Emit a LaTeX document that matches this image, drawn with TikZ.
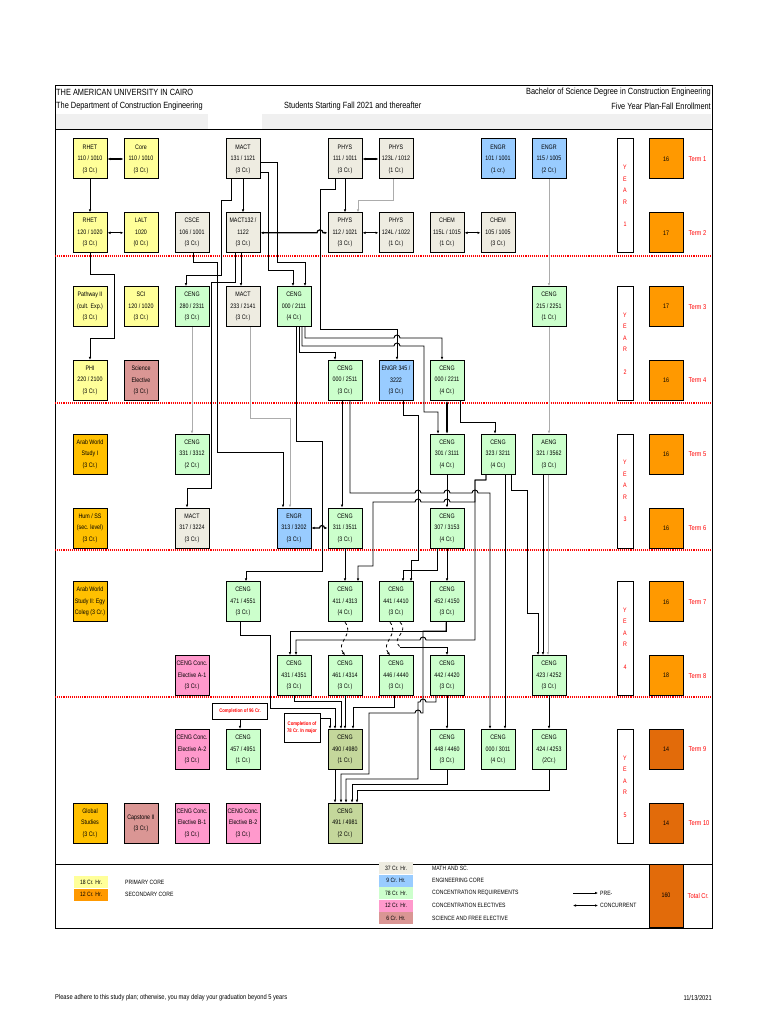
\documentclass[tikz,border=0pt]{standalone}
\usepackage{fontspec}
\setmainfont{Liberation Sans}[FakeStretch=0.82]
\usetikzlibrary{arrows.meta,positioning,calc}

\definecolor{cYel}{HTML}{FFFF99}
\definecolor{cGold}{HTML}{FFC000}
\definecolor{cMath}{HTML}{EEECE1}
\definecolor{cBlue}{HTML}{99CCFF}
\definecolor{cGreen}{HTML}{CCFFCC}
\definecolor{cPink}{HTML}{FF99CC}
\definecolor{cRose}{HTML}{DA9694}
\definecolor{cOlive}{HTML}{C4D79B}
\definecolor{cOra}{HTML}{FF9900}
\definecolor{cDOra}{HTML}{E26B0A}

\newcommand{\bxfont}{\fontsize{6.5}{11.5}\selectfont}
\newcommand{\hdfont}{\fontsize{9}{10}\selectfont}
\newcommand{\smfont}{\fontsize{7}{8}\selectfont}
\newcommand{\ntfont}{\fontsize{5.2}{6.5}\selectfont\bfseries}
\newcommand{\yrfont}{\fontsize{6.5}{11.5}\selectfont}
\newcommand{\lgfont}{\fontsize{6.2}{7}\selectfont}

\begin{document}
\begin{tikzpicture}[
    x=1pt, y=-1pt,
    node distance=73.8pt and 51pt, on grid,
    course/.style={rectangle, draw=black, line width=1pt, minimum width=34pt, minimum height=40pt, inner sep=0pt, align=center, font=\bxfont},
    yel/.style={course, fill=cYel},
    gen/.style={course, fill=cGold},
    msc/.style={course, fill=cMath},
    engr/.style={course, fill=cBlue},
    ceng/.style={course, fill=cGreen},
    elec/.style={course, fill=cPink},
    sci/.style={course, fill=cRose},
    proj/.style={course, fill=cOlive},
    credit/.style={rectangle, draw=black, line width=1pt, fill=cOra, minimum width=34pt, minimum height=40pt, font=\bxfont},
    yearbar/.style={rectangle, draw=black, line width=1pt, fill=white, minimum width=16pt, minimum height=113.8pt, inner sep=0pt, align=center, text=red, font=\yrfont},
    termlbl/.style={anchor=west, inner sep=0pt, text=red, font=\smfont},
    note/.style={rectangle, draw=black, line width=0.8pt, fill=white, align=center, text=red, inner sep=1pt, font=\ntfont},
    swatch/.style={rectangle, minimum width=34pt, minimum height=12pt, inner sep=0pt, font=\lgfont},
    leg/.style={anchor=west, inner sep=0pt, font=\lgfont},
    title/.style={inner sep=0pt, font=\hdfont},
    arrow/.style={-{Latex[length=3pt,width=2.6pt]}, line width=0.9pt},
    grayarrow/.style={arrow, draw=gray!65},
    dblarrow/.style={{Latex[length=3pt,width=2.6pt]}-{Latex[length=3pt,width=2.6pt]}, line width=1.2pt},
    wiggle/.style={dashed, line width=0.8pt},
    yrline/.style={draw=red, densely dotted, line width=1.1pt}
]
\useasboundingbox (0,0) rectangle (768,1024);
\fill[white] (0,0) rectangle (768,1024);

% header and frame
\fill[gray!12] (56,114) rectangle (208,129);
\fill[gray!12] (262,114) rectangle (711,129);
\draw[line width=1pt] (55,86) rectangle (712,928);
\draw[line width=1pt] (55,129.5) -- (712,129.5);
\draw[line width=1pt] (55,864) -- (712,864);
\draw[yrline] (55,256) -- (712,256);
\draw[yrline] (55,403) -- (712,403);
\draw[yrline] (55,550) -- (712,550);
\draw[yrline] (55,697) -- (712,697);

\node[title, anchor=west] (uni) at (56,92) {THE AMERICAN UNIVERSITY IN CAIRO};
\node[title, anchor=west] (dept) at (56,106) {The Department of Construction Engineering};
\node[title, anchor=west] (intake) at (284,106) {Students Starting Fall 2021 and thereafter};
\node[title, anchor=east] (degree) at (711,92) {Bachelor of Science Degree in Construction Engineering};
\node[title, anchor=east] (plan) at (711,106) {Five Year Plan-Fall Enrollment};

% year 1
\node[yel] (rhet110) at (90,159) {RHET\\110 / 1010\\(3 Cr.)};
\node[yel, right=of rhet110] (core110) {Core\\110 / 1010\\(3 Cr.)};
\node[msc, right=102pt of core110] (mact131) {MACT\\131 / 1121\\(3 Cr.)};
\node[msc, right=102pt of mact131] (phys111) {PHYS\\111 / 1011\\(3 Cr.)};
\node[msc, right=of phys111] (phys123) {PHYS\\123L / 1012\\(1 Cr.)};
\node[engr, right=102pt of phys123] (engr101) {ENGR\\101 / 1001\\(1 cr.)};
\node[engr, right=of engr101] (engr115) {ENGR\\115 / 1005\\(2 Cr.)};

\node[yel, below=of rhet110] (rhet120) {RHET\\120 / 1020\\(3 Cr.)};
\node[yel, right=of rhet120] (lalt) {LALT\\1020\\(0 Cr.)};
\node[msc, right=of lalt] (csce106) {CSCE\\106 / 1001\\(3 Cr.)};
\node[msc, right=of csce106] (mact132) {MACT132 /\\1122\\(3 Cr.)};
\node[msc, right=102pt of mact132] (phys112) {PHYS\\112 / 1021\\(3 Cr.)};
\node[msc, right=of phys112] (phys124) {PHYS\\124L / 1022\\(1 Cr.)};
\node[msc, right=of phys124] (chem115) {CHEM\\115L / 1015\\(1 Cr.)};
\node[msc, right=of chem115] (chem105) {CHEM\\105 / 1005\\(3 Cr.)};

% year 2
\node[yel, below=of rhet120] (path2) {Pathway II\\(cult. Exp.)\\(3 Cr.)};
\node[yel, right=of path2] (sci120) {SCI\\120 / 1020\\(3 Cr.)};
\node[ceng, right=of sci120] (ceng280) {CENG\\280 / 2311\\(3 Cr.)};
\node[msc, right=of ceng280] (mact233) {MACT\\233 / 2141\\(3 Cr.)};
\node[ceng, right=of mact233] (ceng2111) {CENG\\000 / 2111\\(4 Cr.)};
\node[ceng, right=255pt of ceng2111] (ceng215) {CENG\\215 / 2251\\(1 Cr.)};

\node[yel, below=of path2] (phi220) {PHI\\220 / 2100\\(3 Cr.)};
\node[sci, right=of phi220] (scielec) {Science\\Elective\\(3 Cr.)};
\node[ceng, right=204pt of scielec] (ceng2511) {CENG\\000 / 2511\\(3 Cr.)};
\node[engr, right=of ceng2511] (engr345) {ENGR 345 /\\3222\\(3 Cr.)};
\node[ceng, right=of engr345] (ceng2211) {CENG\\000 / 2211\\(4 Cr.)};

% year 3
\node[gen, below=of phi220] (arab1) {Arab World\\Study I\\(3 Cr.)};
\node[ceng, right=102pt of arab1] (ceng331) {CENG\\331 / 3312\\(2 Cr.)};
\node[ceng, right=255pt of ceng331] (ceng301) {CENG\\301 / 3111\\(4 Cr.)};
\node[ceng, right=of ceng301] (ceng323) {CENG\\323 / 3211\\(4 Cr.)};
\node[ceng, right=of ceng323] (aeng321) {AENG\\321 / 3562\\(3 Cr.)};

\node[gen, below=of arab1] (humss) {Hum / SS\\(sec. level)\\(3 Cr.)};
\node[msc, right=102pt of humss] (mact317) {MACT\\317 / 3224\\(3 Cr.)};
\node[engr, right=102pt of mact317] (engr313) {ENGR\\313 / 3202\\(3 Cr.)};
\node[ceng, right=of engr313] (ceng311) {CENG\\311 / 3511\\(3 Cr.)};
\node[ceng, right=102pt of ceng311] (ceng307) {CENG\\307 / 3153\\(4 Cr.)};

% year 4
\node[gen, below=of humss] (arab2) {Arab World\\Study II: Egy\\Coleg (3 Cr.)};
\node[ceng, right=153pt of arab2] (ceng471) {CENG\\471 / 4551\\(3 Cr.)};
\node[ceng, right=102pt of ceng471] (ceng411) {CENG\\411 / 4313\\(4 Cr.)};
\node[ceng, right=of ceng411] (ceng441) {CENG\\441 / 4410\\(3 Cr.)};
\node[ceng, right=of ceng441] (ceng452) {CENG\\452 / 4150\\(3 Cr.)};

\node[elec, below=147.6pt of mact317] (elecA1) {CENG Conc.\\Elective A-1\\(3 Cr.)};
\node[ceng, right=102pt of elecA1] (ceng431) {CENG\\431 / 4351\\(3 Cr.)};
\node[ceng, right=of ceng431] (ceng461) {CENG\\461 / 4314\\(3 Cr.)};
\node[ceng, right=of ceng461] (ceng446) {CENG\\446 / 4440\\(3 Cr.)};
\node[ceng, right=of ceng446] (ceng442) {CENG\\442 / 4420\\(3 Cr.)};
\node[ceng, right=102pt of ceng442] (ceng423) {CENG\\423 / 4252\\(3 Cr.)};

% year 5
\node[elec, below=of elecA1] (elecA2) {CENG Conc.\\Elective A-2\\(3 Cr.)};
\node[ceng, right=of elecA2] (ceng457) {CENG\\457 / 4951\\(1 Cr.)};
\node[proj, right=102pt of ceng457] (ceng490) {CENG\\490 / 4980\\(1 Cr.)};
\node[ceng, right=102pt of ceng490] (ceng448) {CENG\\448 / 4460\\(3 Cr.)};
\node[ceng, right=of ceng448] (ceng3011) {CENG\\000 / 3011\\(4 Cr.)};
\node[ceng, right=of ceng3011] (ceng424) {CENG\\424 / 4253\\(2Cr.)};

\node[gen, below=221.4pt of arab2] (global) {Global\\Studies\\(3 Cr.)};
\node[sci, right=of global] (capst) {Capstone II\\(3 Cr.)};
\node[elec, right=of capst] (elecB1) {CENG Conc.\\Elective B-1\\(3 Cr.)};
\node[elec, right=of elecB1] (elecB2) {CENG Conc.\\Elective B-2\\(3 Cr.)};
\node[proj, right=102pt of elecB2] (ceng491) {CENG\\491 / 4981\\(2 Cr.)};

\node[note, minimum width=55pt, minimum height=16pt] (cr96) at (240,711) {Completion of 96 Cr.};
\node[note, minimum width=36pt, minimum height=29pt] (cr78) at (302,727.5) {Completion of\\78 Cr. In major};

% year bars and credits
\node[yearbar] (yr1) at (625,195.9) {Y\\E\\A\\R\\[11pt]1};
\node[yearbar] (yr2) at (625,343.5) {Y\\E\\A\\R\\[11pt]2};
\node[yearbar] (yr3) at (625,491.1) {Y\\E\\A\\R\\[11pt]3};
\node[yearbar] (yr4) at (625,638.7) {Y\\E\\A\\R\\[11pt]4};
\node[yearbar] (yr5) at (625,786.3) {Y\\E\\A\\R\\[11pt]5};

\node[credit, right=117pt of engr115] (t1) {16};
\node[credit, below=of t1] (t2) {17};
\node[credit, below=of t2] (t3) {17};
\node[credit, below=of t3] (t4) {16};
\node[credit, below=of t4] (t5) {16};
\node[credit, below=of t5] (t6) {16};
\node[credit, below=of t6] (t7) {16};
\node[credit, below=of t7] (t8) {18};
\node[credit, fill=cDOra, below=of t8] (t9) {14};
\node[credit, fill=cDOra, below=of t9] (t10) {14};
\node[termlbl] (lt1) at ([xshift=5pt]t1.east) {Term 1};
\node[termlbl] (lt2) at ([xshift=5pt]t2.east) {Term 2};
\node[termlbl] (lt3) at ([xshift=5pt]t3.east) {Term 3};
\node[termlbl] (lt4) at ([xshift=5pt]t4.east) {Term 4};
\node[termlbl] (lt5) at ([xshift=5pt]t5.east) {Term 5};
\node[termlbl] (lt6) at ([xshift=5pt]t6.east) {Term 6};
\node[termlbl] (lt7) at ([xshift=5pt]t7.east) {Term 7};
\node[termlbl] (lt8) at ([xshift=5pt]t8.east) {Term 8};
\node[termlbl] (lt9) at ([xshift=5pt]t9.east) {Term 9};
\node[termlbl] (lt10) at ([xshift=5pt]t10.east) {Term 10};

% year 1 links
\draw[dblarrow] (rhet110) -- (core110);
\draw[arrow] (rhet110) -- (rhet120);
\draw[dblarrow] (rhet120) -- (lalt);
\draw[arrow] (mact131) -- (mact132);
\draw[dblarrow] (phys111) -- (phys123);
\draw[arrow] (phys111) -- (phys112);
\draw[grayarrow] ([xshift=-3pt]phys123.south) |- (358,200) -- ([xshift=13pt]phys112.north);
\draw[dblarrow] (phys112) -- (phys124);
\draw[dblarrow] (chem115) -- (chem105);
\draw[dblarrow] (mact132.east) -- (317,232.8) arc[start angle=180, end angle=0, radius=3pt] -- (phys112.west);
\draw[arrow] ([xshift=-10pt]phys111.south) |- (320,189) -- (320,329) -| ([xshift=1pt]engr345.north);
\draw[grayarrow] (engr115) -- (ceng215);

% year 2 links
\draw[arrow] (rhet120.south) |- (114,274) -- (114,338) -| (phi220.north);
\draw[arrow] ([xshift=-12pt]mact131.south) |- (221,200) -- (221,275) -| ([xshift=-6pt]ceng280.north);
\draw[arrow] ([xshift=1pt]csce106.south) |- (217,262) -- (217,452) -| ([xshift=-11pt]engr313.north);
\draw[arrow] ([xshift=-2pt]mact132.south) -- ([xshift=-2pt]mact233.north);
\draw[arrow] ([xshift=-8pt]mact132.south) |- (211,282) -- (211,488) -| ([xshift=-5pt]mact317.north);
\draw[arrow] ([yshift=-3pt]mact131.east) -| (277,262) -| ([xshift=11pt]ceng2111.north);
\draw[arrow] ([yshift=-13pt]mact131.east) -| (268,270) -| ([xshift=-1pt]ceng2111.north);
\draw[arrow] ([xshift=5pt]ceng2111.south) |- (335,352) -- ([xshift=-10pt]ceng2511.north);
\draw[arrow] ([xshift=8pt]ceng2111.south) |- (394,346) arc[start angle=180, end angle=0, radius=3pt] -- (424,346) |- (438,412) -- ([xshift=-9pt]ceng301.north);
\draw[arrow] ([xshift=11pt]ceng2111.south) |- (394,338) arc[start angle=180, end angle=0, radius=3pt] -- ([xshift=-5pt]ceng2211.north |- 0,338) -- ([xshift=-5pt]ceng2211.north);
\draw[arrow] ([xshift=2pt]ceng2111.south) |- (322,441) -- (322,571) -| ([xshift=3pt]ceng471.north);
\draw[dblarrow] (ceng2211) -- (ceng301);
\draw[arrow] ([xshift=13pt]ceng2211.south) |- (495,422) -- ([xshift=-3pt]ceng323.north);
\draw[grayarrow] (ceng215) -- (aeng321);
\draw[grayarrow] (ceng280) -- (ceng331);
\draw[grayarrow] ([xshift=7pt]mact233.south) |- (290,418) -- ([xshift=-4pt]engr313.north);
\draw[arrow] ([xshift=7pt]engr345.south) |- (418,415) |- (411,560) -- ([xshift=15pt]ceng441.north);
\draw[arrow] ([xshift=-3pt]ceng2511.south) -- ([xshift=-3pt]ceng311.north);
\draw[arrow] ([xshift=5pt]ceng2511.south) |- (415,493) arc[start angle=180, end angle=0, radius=3pt] -- (444,493) arc[start angle=180, end angle=0, radius=3pt] -- (472,493) arc[start angle=180, end angle=0, radius=3pt] -- (490,493) -- ([xshift=-8pt]ceng3011.north);

% year 3 links
\draw[arrow] ([xshift=-12pt]ceng323.south) |- (475,480) -- (475,502) -- (450,502) arc[start angle=0, end angle=180, radius=3pt] -- (421,502) arc[start angle=0, end angle=180, radius=3pt] -- (373,502) -- (373,566) -| ([xshift=13pt]ceng411.north);
\draw[arrow] ([xshift=-12pt]ceng323.south) |- (475,480) -- (475,640) -- (426,640) arc[start angle=0, end angle=180, radius=3pt] -- (296,640) -- ([xshift=2pt]ceng431.north);
\draw[arrow] ([xshift=7pt]ceng323.south) -- ([xshift=7pt]ceng3011.north);
\draw[arrow] ([xshift=13pt]ceng323.south) |- (527,490) |- (538,613) -- ([xshift=-11pt]ceng423.north);
\draw[arrow] ([xshift=-6pt]aeng321.south) -- ([xshift=-6pt]ceng423.north);
\draw[grayarrow] ([xshift=-1pt]aeng321.south) -- ([xshift=-1pt]ceng423.north);
\draw[arrow] (ceng301) -- (ceng307);
\draw[dblarrow] (engr313.east) -- (319.5,528) arc[start angle=180, end angle=0, radius=2.5pt] -- (ceng311.west);
\draw[arrow] (ceng311) -- (ceng411);
\draw[arrow] (ceng307) -- (ceng452);
\draw[arrow] ([xshift=-10pt]ceng307.south) |- (403,570) -- ([xshift=7pt]ceng441.north);

% year 4 links
\coordinate (h3) at (400,647);
\draw[arrow, wiggle] (ceng411.south) .. controls (355,634) and (335,643) .. (ceng461.north);
\draw[arrow, wiggle] ([xshift=-6pt]ceng441.south) .. controls (400,634) and (380,643) .. ([xshift=-6pt]ceng446.north);
\draw[wiggle] ([xshift=4pt]ceng441.south) .. controls (410,632) and (390,638) .. (h3);
\draw[arrow] (h3) -| (ceng442.north);
\draw[arrow] ([xshift=-1pt]ceng452.south) |- (290,631) -- ([xshift=-4pt]ceng431.north);
\draw[arrow] ([xshift=-1pt]ceng452.south) |- (423,631) -- (423,713) -- (421,713) arc[start angle=0, end angle=180, radius=3pt] -- (369,713) -- (369,774) -| ([xshift=-4pt]ceng491.north);
\draw[arrow] ([xshift=-3pt]ceng471.south) |- (270,635) -- (270,708) -| ([xshift=-10pt]ceng490.north);
\draw[arrow] (ceng431.south) |- (341,701) -- ([xshift=-4pt]ceng490.north);
\draw[arrow] ([yshift=9pt]cr78.east) -| ([xshift=-15pt]ceng490.north);
\draw[arrow] (ceng461) -- (ceng490);
\draw[arrow] ([xshift=-2pt]ceng446.south) |- (353,707) -- ([xshift=8pt]ceng490.north);
\draw[arrow] (ceng442) -- (ceng448);
\draw[arrow] ([xshift=-11pt]ceng442.south) |- (426,702) arc[start angle=0, end angle=180, radius=3pt] -- (418,702) -- (418,779) -| ([xshift=1pt]ceng491.north);
\draw[arrow] (ceng423) -- (ceng424);

% year 5 links
\draw[arrow] (cr96.south) -- (cr96.south |- ceng457.north);
\draw[arrow] ([xshift=-10pt]ceng490.south) -- ([xshift=-10pt]ceng491.north);
\draw[arrow] (ceng448.south) |- (352,784) -- ([xshift=7pt]ceng491.north);
\draw[arrow] (ceng424.south) |- (357,790) -- ([xshift=12pt]ceng491.north);

% legend
\node[swatch, fill=cYel] (sw18) at (91,882) {18 Cr. Hr.};
\node[swatch, fill=cOra, below=12.5pt of sw18] (sw12) {12 Cr. Hr.};
\node[leg] (lgprim) at (125,882) {PRIMARY CORE};
\node[leg] (lgsec) at (125,894.5) {SECONDARY CORE};
\node[swatch, fill=cMath] (sw37) at (396,868) {37 Cr. Hr.};
\node[swatch, fill=cBlue, below=12.5pt of sw37] (sw9) {9 Cr. Hr.};
\node[swatch, fill=cGreen, below=12.5pt of sw9] (sw78) {78 Cr. Hr.};
\node[swatch, fill=cPink, below=12.5pt of sw78] (sw12b) {12 Cr. Hr.};
\node[swatch, fill=cRose, below=12.5pt of sw12b] (sw6) {6 Cr. Hr.};
\node[leg] (lgmath) at (432,868) {MATH AND SC.};
\node[leg] (lgeng) at (432,880.5) {ENGINEERING CORE};
\node[leg] (lgreq) at (432,893) {CONCENTRATION REQUIREMENTS};
\node[leg] (lgel) at (432,905.5) {CONCENTRATION ELECTIVES};
\node[leg] (lgfree) at (432,918) {SCIENCE AND FREE ELECTIVE};
\node[leg] (lgpre) at (600,893) {PRE-};
\node[leg] (lgcon) at (600,905.5) {CONCURRENT};
\draw[arrow] ([xshift=-27pt]lgpre.west) -- ([xshift=-2pt]lgpre.west);
\draw[dblarrow] ([xshift=-27pt]lgcon.west) -- ([xshift=-2pt]lgcon.west);
\node[credit, fill=cDOra, minimum height=63pt] (total) at (666,895.5) {160};
\node[termlbl] (lgtot) at ([xshift=4pt]total.east) {Total Cr.};

% footer
\node[anchor=west, inner sep=0pt, font=\smfont] (advice) at (55,998) {Please adhere to this study plan; otherwise, you may delay your graduation beyond 5 years};
\node[anchor=east, inner sep=0pt, font=\smfont] (date) at (712,998) {11/13/2021};
\end{tikzpicture}
\end{document}
